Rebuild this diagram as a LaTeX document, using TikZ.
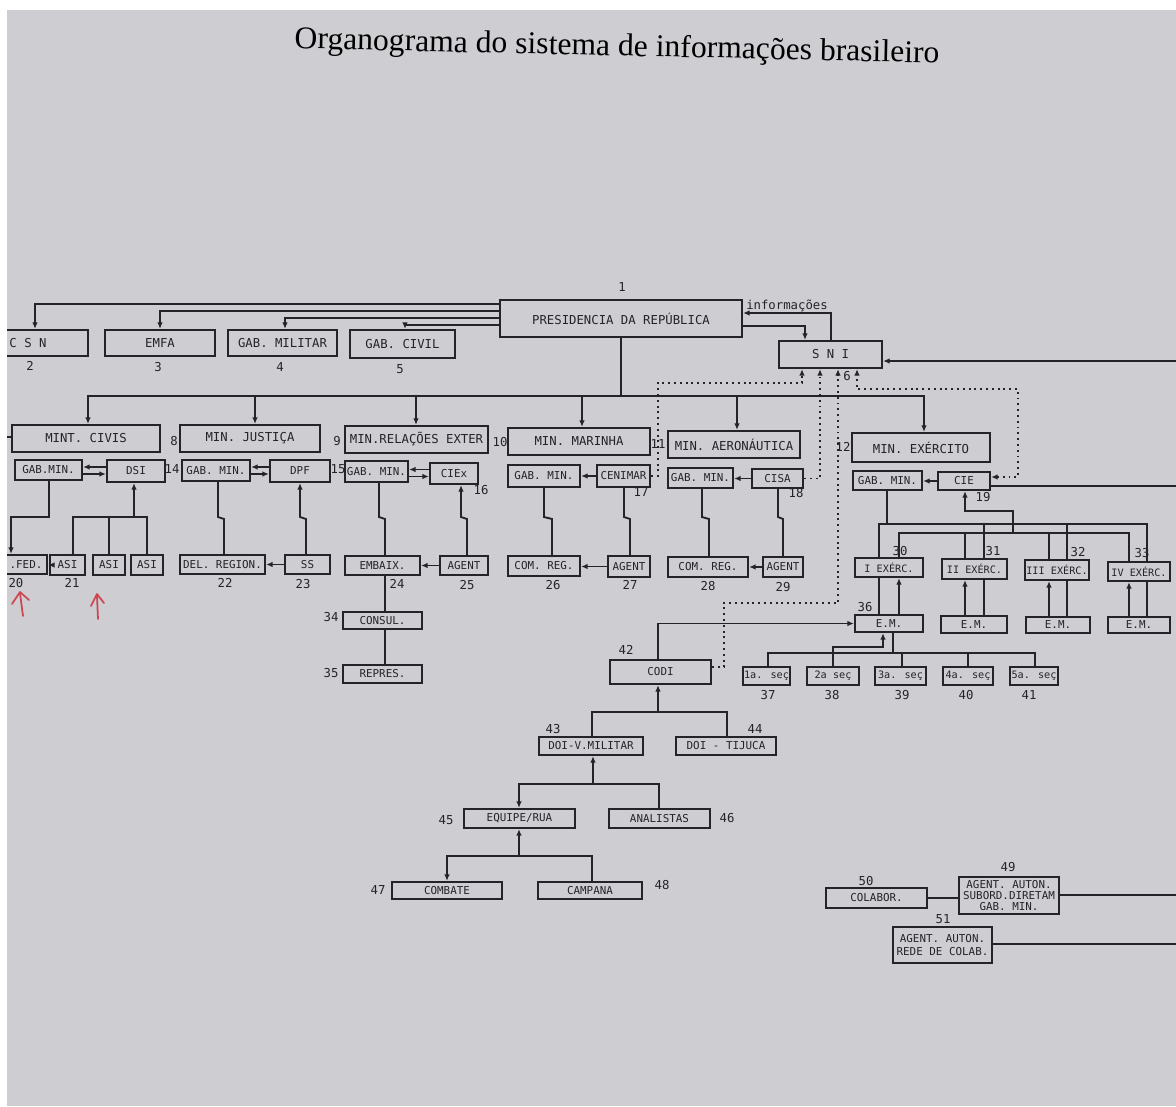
\documentclass[tikz,border=0pt]{standalone}
\usepackage{fontspec}
\newfontfamily\plotfont{DejaVu Sans Mono}
\newfontfamily\titlefont{Liberation Serif}
\usetikzlibrary{arrows.meta,calc}

\definecolor{paper}{RGB}{206,205,210}
\definecolor{ink}{RGB}{36,36,40}
\definecolor{redpen}{RGB}{205,70,80}

\begin{document}
\begin{tikzpicture}[
    x=0.02cm,
    y=-0.02cm,
    >={Latex[length=1.3mm,width=1.1mm]},
    link/.style={draw=ink, line width=1.05pt},
    arr/.style={link, ->},
    infolink/.style={draw=ink, line width=1.1pt, dash pattern=on 1.1pt off 2.2pt},
    orgbox/.style 2 args={draw=ink, line width=1.25pt, minimum width={#1*0.02cm}, minimum height={#2*0.02cm}, inner sep=0pt, text=ink, font=\plotfont\fontsize{7}{8}\selectfont},
    smallbox/.style 2 args={orgbox={#1}{#2}, font=\plotfont\fontsize{6.2}{7}\selectfont},
    tinybox/.style 2 args={orgbox={#1}{#2}, font=\plotfont\fontsize{5.8}{7}\selectfont},
    numlabel/.style={text=ink, inner sep=0pt, font=\plotfont\fontsize{7}{8}\selectfont},
    pen/.style={draw=redpen, line width=1pt, line cap=round, line join=round}
]

% Page: pixel grid, x to the right, y downwards
\useasboundingbox (0,0) rectangle (1176,1106);
\fill[paper] (0,0) rectangle (1176,1106);

\node[font=\titlefont\fontsize{18}{20}\selectfont, rotate=-1.3] (title) at (617,48)
    {Organograma do sistema de informações brasileiro};

% Top level
\node[orgbox={242}{37}] (pres) at (621,318.5) {PRESIDENCIA DA REPÚBLICA};
\node[orgbox={120}{26}] (csn) at (28,343) {C S N};
\node[orgbox={110}{26}] (emfa) at (160,343) {EMFA};
\node[orgbox={109}{26}] (gabmil) at (282.5,343) {GAB. MILITAR};
\node[orgbox={105}{28}] (gabciv) at (402.5,344) {GAB. CIVIL};
\node[orgbox={103}{27}] (sni) at (830.5,354.5) {S N I};

% Ministries
\node[orgbox={148}{27}] (civis) at (86,438.5) {MINT. CIVIS};
\node[orgbox={140}{27}] (just) at (250,438.5) {MIN. JUSTIÇA};
\node[orgbox={143}{27}] (relext) at (416.5,439.5) {MIN.RELAÇÕES EXTER};
\node[orgbox={142}{27}] (mar) at (579,441.5) {MIN. MARINHA};
\node[orgbox={132}{27}] (aero) at (734,444.5) {MIN. AERONÁUTICA};
\node[orgbox={138}{29}] (exer) at (921,447.5) {MIN. EXÉRCITO};

% Cabinets and information services
\node[smallbox={67}{20}] (gmciv) at (48.5,470) {GAB.MIN.};
\node[smallbox={58}{22}] (dsi) at (136,471) {DSI};
\node[smallbox={68}{21}] (gmjus) at (216,470.5) {GAB. MIN.};
\node[smallbox={60}{22}] (dpf) at (300,471) {DPF};
\node[smallbox={63}{21}] (gmrel) at (376.5,471.5) {GAB. MIN.};
\node[smallbox={48}{21}] (ciex) at (454,473.5) {CIEx};
\node[smallbox={72}{22}] (gmmar) at (544,476) {GAB. MIN.};
\node[smallbox={53}{22}] (cenimar) at (623.5,476) {CENIMAR};
\node[smallbox={65}{20}] (gmaer) at (700.5,478) {GAB. MIN.};
\node[smallbox={51}{19}] (cisa) at (777.5,478.5) {CISA};
\node[smallbox={69}{19}] (gmexe) at (887.5,480.5) {GAB. MIN.};
\node[smallbox={52}{18}] (cie) at (964,481) {CIE};

% Regional level
\node[smallbox={42}{19}] (polfed) at (26,564.5) {.FED.};
\node[smallbox={35}{20}] (asi1) at (67.5,565) {ASI};
\node[smallbox={32}{20}] (asi2) at (109,565) {ASI};
\node[smallbox={32}{20}] (asi3) at (147,565) {ASI};
\node[smallbox={85}{19}] (delreg) at (222.5,564.5) {DEL. REGION.};
\node[smallbox={45}{19}] (ss) at (307.5,564.5) {SS};
\node[smallbox={75}{19}] (embaix) at (382.5,565.5) {EMBAIX.};
\node[smallbox={48}{19}] (agent25) at (464,565.5) {AGENT};
\node[smallbox={72}{20}] (comreg26) at (544,566) {COM. REG.};
\node[smallbox={42}{21}] (agent27) at (629,566.5) {AGENT};
\node[smallbox={80}{20}] (comreg28) at (708,567) {COM. REG.};
\node[smallbox={40}{20}] (agent29) at (783,567) {AGENT};
\node[smallbox={79}{17}] (consul) at (382.5,620.5) {CONSUL.};
\node[smallbox={79}{18}] (repres) at (382.5,674) {REPRES.};

% Army chain
\node[tinybox={68}{19}] (ex1) at (889,567.5) {I EXÉRC.};
\node[tinybox={65}{20}] (ex2) at (974.5,569) {II EXÉRC.};
\node[tinybox={64}{20}] (ex3) at (1057,570) {III EXÉRC.};
\node[tinybox={62}{19}] (ex4) at (1139,571.5) {IV EXÉRC.};
\node[smallbox={68}{17}] (em1) at (889,623.5) {E.M.};
\node[smallbox={66}{17}] (em2) at (974,624.5) {E.M.};
\node[smallbox={64}{16}] (em3) at (1058,625) {E.M.};
\node[smallbox={62}{16}] (em4) at (1139,625) {E.M.};
\node[tinybox={47}{18}] (sec1) at (766.5,676) {1a. seç};
\node[tinybox={52}{18}] (sec2) at (833,676) {2a  seç};
\node[tinybox={51}{18}] (sec3) at (900.5,676) {3a. seç};
\node[tinybox={50}{18}] (sec4) at (968,676) {4a. seç};
\node[tinybox={48}{18}] (sec5) at (1034,676) {5a. seç};

% CODI / DOI
\node[smallbox={101}{24}] (codi) at (660.5,672) {CODI};
\node[smallbox={104}{18}] (doivm) at (591,746) {DOI-V.MILITAR};
\node[smallbox={100}{18}] (doitij) at (726,746) {DOI - TIJUCA};
\node[smallbox={111}{19}] (equipe) at (519.5,818.5) {EQUIPE/RUA};
\node[smallbox={101}{19}] (analis) at (659.5,818.5) {ANALISTAS};
\node[smallbox={110}{17}] (combate) at (447,890.5) {COMBATE};
\node[smallbox={104}{17}] (campana) at (590,890.5) {CAMPANA};

% Agents
\node[smallbox={101}{20}] (colab) at (876.5,898) {COLABOR.};
\node[smallbox={100}{37}, align=center, font=\plotfont\fontsize{6.2}{6.4}\selectfont] (agaut49) at (1009,895.5)
    {AGENT. AUTON.\\SUBORD.DIRETAM\\GAB. MIN.};
\node[smallbox={99}{36}, align=center, font=\plotfont\fontsize{6.2}{7.4}\selectfont] (agaut51) at (942.5,945)
    {AGENT. AUTON.\\REDE DE COLAB.};

% Reference numbers
\foreach \n/\x/\y in {1/622/287, 2/30/366, 3/158/367, 4/280/367, 5/400/369, 6/847/376,
    8/174/441, 9/337/441, 10/500/442, 11/658/444, 12/843/447,
    14/172/469, 15/338/469, 16/481/490, 17/641/492, 18/796/493, 19/983/497,
    20/16/583, 21/72/583, 22/225/583, 23/303/584, 24/397/584, 25/467/585,
    26/553/585, 27/630/585, 28/708/586, 29/783/587,
    30/900/551, 31/993/551, 32/1078/552, 33/1142/553, 34/331/617, 35/331/673,
    36/865/607, 37/768/695, 38/832/695, 39/902/695, 40/966/695, 41/1029/695,
    42/626/650, 43/553/729, 44/755/729, 45/446/820, 46/727/818, 47/378/890,
    48/662/885, 49/1008/867, 50/866/881, 51/943/919}{
    \node[numlabel] (n\n) at (\x,\y) {\n};
}

% Presidency to its organs
\foreach \m/\x/\y in {csn/35/304, emfa/160/311, gabmil/285/318, gabciv/405/325}{
    \draw[arr] (pres.west |- 0,\y) -| (\m.north -| \x,0);
}
\draw[arr] (pres.east |- 0,326) -| (sni.north -| 805,0);
\draw[arr] (sni.north -| 831,0) |- (pres.east |- 0,313);
\node[numlabel] (infolbl) at (787,306) {informações};
\coordinate (snifar) at (1180,361);
\draw[arr] (snifar) -- (sni.east |- snifar);

% Ministries bus
\coordinate (bus) at (621,396);
\draw[link] (pres.south) -- (bus);
\foreach \m/\x in {civis/88, just/255, relext/416, mar/582, aero/737, exer/924}{
    \draw[arr] (bus) -| (\m.north -| \x,0);
}
\coordinate (civisleft) at (0,437);
\draw[link] (civisleft) -- (civis.west |- civisleft);

% Cabinet <-> service
\foreach \a/\b in {gmciv/dsi, gmjus/dpf, gmrel/ciex}{
    \draw[arr] ($(\b.west)+(0,-4)$) -- ($(\a.east |- \b.west)+(0,-4)$);
    \draw[arr] ($(\a.east |- \b.west)+(0,3)$) -- ($(\b.west)+(0,3)$);
}
\draw[arr] (cenimar.west) -- (gmmar.east |- cenimar.west);
\draw[arr] (cisa.west) -- (gmaer.east |- cisa.west);
\draw[arr] (cie.west) -- (gmexe.east |- cie.west);

% Down to the regional level
\draw[arr] (gmciv.south -| 49,0) -- (49,517) -| (polfed.north -| 11,0);
\coordinate (dsijoin) at (134,517);
\draw[arr] (dsijoin) -- (dsi.south -| dsijoin);
\foreach \n/\x in {asi1/73, asi2/109, asi3/147}{
    \draw[link] (dsijoin) -| (\n.north -| \x,0);
}
\foreach \a/\b/\xa/\xb in {gmjus/delreg/218/224, gmrel/embaix/379/385, gmmar/comreg26/544/552,
    cenimar/agent27/624/630, gmaer/comreg28/702/709, cisa/agent29/778/783}{
    \draw[link] (\a.south -| \xa,0) -- (\xa,517) -- (\xb,519) -- (\b.north -| \xb,0);
}
\draw[arr] (ss.north -| 306,0) -- (306,519) -- (300,517) -- (dpf.south -| 300,0);
\draw[arr] (agent25.north -| 467,0) -- (467,519) -- (461,517) -- (ciex.south -| 461,0);
\foreach \a/\b in {polfed/asi1, delreg/ss, embaix/agent25, comreg26/agent27, comreg28/agent29}{
    \draw[arr] (\b.west) -- (\a.east |- \b.west);
}
\draw[link] (embaix.south -| 385,0) -- (consul.north -| 385,0);
\draw[link] (consul.south -| 385,0) -- (repres.north -| 385,0);

% Army: cabinet and CIE to the armies
\coordinate (exup) at (887,524);
\draw[link] (gmexe.south -| exup) -- (exup);
\foreach \n/\x in {ex1/879, ex2/984, ex3/1067, ex4/1147}{
    \draw[link] (exup) -| (\n.north -| \x,0);
}
\coordinate (exlow) at (1013,533);
\draw[arr] (exlow) -- (1013,511) -| (cie.south -| 965,0);
\foreach \n/\x in {ex1/899, ex2/965, ex3/1049, ex4/1129}{
    \draw[link] (exlow) -| (\n.north -| \x,0);
}
\foreach \n/\e/\xa/\xb in {ex1/em1/879/899, ex2/em2/984/965, ex3/em3/1067/1049, ex4/em4/1147/1129}{
    \draw[link] (\n.south -| \xa,0) -- (\e.north -| \xa,0);
    \draw[arr] (\e.north -| \xb,0) -- (\n.south -| \xb,0);
}
\coordinate (farcie) at (1180,486);
\draw[link] (farcie) -- (cie.east |- farcie);

% Sections of E.M.
\coordinate (secjoin) at (893,653);
\draw[link] (em1.south -| secjoin) -- (secjoin);
\foreach \n/\x in {sec1/768, sec3/902, sec4/968, sec5/1035}{
    \draw[link] (secjoin) -| (\n.north -| \x,0);
}
\draw[arr] (sec2.north -| 833,0) |- (883,647) -- (em1.south -| 883,0);

% CODI chain
\draw[arr] (codi.north -| 658,0) |- (em1.west);
\coordinate (codijoin) at (658,712);
\draw[arr] (codijoin) -- (codi.south -| codijoin);
\draw[link] (codijoin) -| (doivm.north -| 592,0);
\draw[link] (codijoin) -| (doitij.north -| 727,0);
\coordinate (doijoin) at (593,784);
\draw[arr] (doijoin) -- (doivm.south -| doijoin);
\draw[arr] (doijoin) -| (equipe.north -| 519,0);
\draw[link] (doijoin) -| (analis.north -| 659,0);
\coordinate (eqjoin) at (519,856);
\draw[arr] (eqjoin) -- (equipe.south -| eqjoin);
\draw[arr] (eqjoin) -| (combate.north -| 447,0);
\draw[link] (eqjoin) -| (campana.north -| 592,0);

% Information flow to the SNI (dotted)
\draw[infolink, ->] (cenimar.east) -| (658,383) -| (sni.south -| 802,0);
\draw[infolink, ->] (cisa.east) -| (sni.south -| 820,0);
\draw[infolink, ->] (codi.east |- 0,667) -| (724,603) -| (sni.south -| 838,0);
\draw[infolink, <->] (cie.east |- 0,477) -| (1018,389) -| (sni.south -| 857,0);

% Autonomous agents
\draw[link] (colab.east) -- (agaut49.west |- colab.east);
\coordinate (far49) at (1180,895);
\draw[link] (agaut49.east |- far49) -- (far49);
\coordinate (far51) at (1180,944);
\draw[link] (agaut51.east |- far51) -- (far51);

% Red pen marks
\draw[pen] (23,616) -- (20,593);
\draw[pen] (12,604) -- (20,592) -- (29,600);
\draw[pen] (98,619) -- (97,596);
\draw[pen] (91,606) -- (97,594) -- (104,603);

% White border of the photo
\fill[white] (0,0) rectangle (1176,10);
\fill[white] (0,0) rectangle (7,1106);

\end{tikzpicture}
\end{document}
